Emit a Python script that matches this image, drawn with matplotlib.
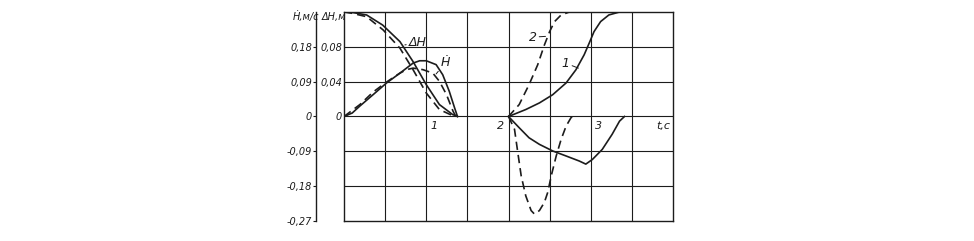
import matplotlib
matplotlib.use("Agg")
import matplotlib.pyplot as plt

plt.rcParams['font.family'] = ['Liberation Sans Narrow', 'DejaVu Sans']

# --- данные ---
# левая часть: дельта H (м) и скорость H' (м/с)
t_dh_sol = [0, 0.1, 0.275, 0.47, 0.68, 0.84, 1.0, 1.16, 1.32, 1.38]
dh_sol = [0.12, 0.1195, 0.1166, 0.105, 0.086, 0.063, 0.0366, 0.0137, 0.0023, 0]
t_dh_das = [0, 0.1, 0.275, 0.476, 0.68, 0.84, 1.0, 1.16, 1.32, 1.36]
dh_das = [0.12, 0.1185, 0.1146, 0.0994, 0.0785, 0.0537, 0.027, 0.008, 0.001, 0]

t_v_sol = [0, 0.1, 0.19, 0.355, 0.517, 0.68, 0.84, 0.92, 1.0, 1.12, 1.2, 1.28, 1.345, 1.38]
v_sol = [0, 0.009, 0.0265, 0.0566, 0.0866, 0.112, 0.138, 0.144, 0.144, 0.134, 0.108, 0.065, 0.022, 0]
t_v_das = [0, 0.194, 0.355, 0.517, 0.679, 0.76, 0.84, 0.96, 1.08, 1.16, 1.245, 1.325, 1.36]
v_das = [0, 0.031, 0.0634, 0.089, 0.112, 0.121, 0.125, 0.121, 0.112, 0.091, 0.057, 0.014, 0]

# правая часть: кривые 1 (сплошная) и 2 (штриховая)
t_dh1 = [2.0, 2.21, 2.376, 2.537, 2.70, 2.82, 2.92, 2.98, 3.04, 3.12, 3.22, 3.35, 4.0]
dh1 = [0, 0.008, 0.0156, 0.025, 0.0385, 0.0537, 0.0709, 0.084, 0.0975, 0.109, 0.1166, 0.12, 0.12]
t_dh2 = [2.0, 2.13, 2.25, 2.355, 2.436, 2.5, 2.56, 2.64, 2.74, 4.0]
dh2 = [0, 0.0137, 0.0366, 0.0594, 0.082, 0.0975, 0.109, 0.1166, 0.12, 0.12]

t_v1 = [2.0, 2.13, 2.25, 2.376, 2.537, 2.70, 2.86, 2.94, 3.02, 3.14, 3.26, 3.35, 3.41]
v1 = [0, -0.029, -0.055, -0.072, -0.089, -0.102, -0.115, -0.123, -0.111, -0.085, -0.046, -0.012, 0]
t_v2 = [2.0, 2.073, 2.113, 2.154, 2.21, 2.275, 2.315, 2.376, 2.436, 2.477, 2.52, 2.58, 2.64, 2.70, 2.76, 2.78]
v2 = [0, -0.033, -0.093, -0.153, -0.205, -0.243, -0.252, -0.243, -0.222, -0.196, -0.153, -0.102, -0.059, -0.025, -0.003, 0]

dh_ticks = [0, 0.04, 0.08]
dh_labels = ['0', '0,04', '0,08']
v_ticks = [-0.27, -0.18, -0.09, 0, 0.09, 0.18]
v_labels = ['-0,27', '-0,18', '-0,09', '0', '0,09', '0,18']
t_ticks = [1, 2, 3]

ink = '#1c1c1c'
dash = (0, (5, 3))
fs = 7

fig = plt.figure(figsize=(9.74, 2.41), dpi=100)
ax_dh = fig.add_axes([344 / 974, 20 / 241, 329 / 974, 209 / 241])
ax_v = ax_dh.twinx()

ax_dh.set_xlim(0, 4)
ax_dh.set_ylim(-0.12, 0.12)
ax_v.set_ylim(-0.27, 0.27)

for s in ax_dh.spines.values():
    s.set_color(ink)
    s.set_linewidth(1.0)
ax_dh.set_xticks([])
ax_dh.set_yticks(dh_ticks)
ax_dh.set_yticklabels(dh_labels, fontsize=fs, style='italic', color=ink)
ax_dh.tick_params(axis='y', length=0, pad=1.5)

# ось скорости вынесена влево
for name in ['top', 'right', 'bottom']:
    ax_v.spines[name].set_visible(False)
ax_v.spines['left'].set_visible(True)
ax_v.spines['left'].set_position(('outward', 20))
ax_v.spines['left'].set_color(ink)
ax_v.spines['left'].set_linewidth(1.0)
ax_v.yaxis.tick_left()
ax_v.set_yticks(v_ticks)
ax_v.set_yticklabels(v_labels, fontsize=fs, style='italic', color=ink)
ax_v.tick_params(axis='y', length=2.5, width=0.8, pad=0.5, color=ink)

# сетка
for x in [0.5, 1, 1.5, 2, 2.5, 3, 3.5]:
    ax_v.axvline(x, color=ink, lw=0.8)
for y in [-0.18, -0.09, 0, 0.09, 0.18]:
    ax_v.axhline(y, color=ink, lw=0.8)

# кривые
lw = 1.2
ax_dh.plot(t_dh_sol, dh_sol, color=ink, lw=lw)
ax_dh.plot(t_dh_das, dh_das, color=ink, lw=lw, linestyle=dash)
ax_v.plot(t_v_sol, v_sol, color=ink, lw=lw)
ax_v.plot(t_v_das, v_das, color=ink, lw=lw, linestyle=dash)
ax_dh.plot(t_dh1, dh1, color=ink, lw=lw)
ax_dh.plot(t_dh2, dh2, color=ink, lw=lw, linestyle=dash)
ax_v.plot(t_v1, v1, color=ink, lw=lw)
ax_v.plot(t_v2, v2, color=ink, lw=lw, linestyle=dash)

# подписи по оси времени
for t in t_ticks:
    ax_v.text(t + (0.05 if t != 2 else -0.05), -0.012, str(t), fontsize=fs + 1,
              style='italic', color=ink, ha='left' if t != 2 else 'right', va='top')
ax_v.text(3.8, -0.012, 't,с', fontsize=fs + 1, style='italic', color=ink, va='top')

# обозначения кривых
tkw = dict(fontsize=fs + 2, style='italic', color=ink)
ax_v.annotate('ΔH', xy=(0.74, 0.185), xytext=(0.79, 0.19), ha='left', va='center',
              arrowprops=dict(arrowstyle='-', color=ink, lw=0.7, shrinkA=0, shrinkB=0), **tkw)
ax_v.annotate('Ḣ', xy=(1.12, 0.11), xytext=(1.18, 0.14), ha='left', va='center',
              arrowprops=dict(arrowstyle='-', color=ink, lw=0.7, shrinkA=0, shrinkB=0), **tkw)
ax_v.annotate('2', xy=(2.45, 0.207), xytext=(2.34, 0.205), ha='right', va='center',
              arrowprops=dict(arrowstyle='-', color=ink, lw=0.7, shrinkA=0, shrinkB=0), **tkw)
ax_v.annotate('1', xy=(2.85, 0.125), xytext=(2.74, 0.138), ha='right', va='center',
              arrowprops=dict(arrowstyle='-', color=ink, lw=0.7, shrinkA=0, shrinkB=0), **tkw)

# названия осей
fig.text(306 / 974, 1 - 17 / 241, 'Ḣ,м/с', fontsize=fs, style='italic', color=ink,
         ha='center', va='center')
fig.text(334 / 974, 1 - 17 / 241, 'ΔH,м', fontsize=fs, style='italic', color=ink,
         ha='center', va='center')

fig.savefig('out.png', dpi=100)
